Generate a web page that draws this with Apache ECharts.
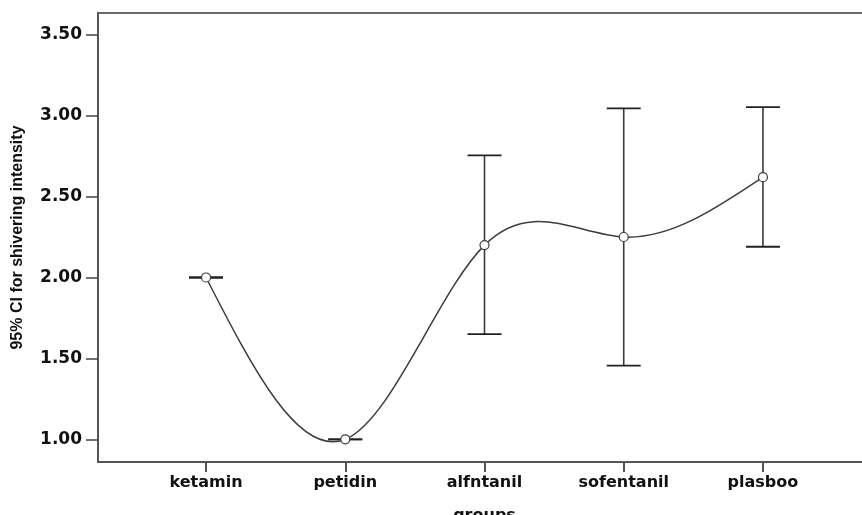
<!DOCTYPE html>
<html>
<head>
<meta charset="utf-8">
<script src="https://cdn.jsdelivr.net/npm/echarts@6/dist/echarts.min.js"></script>
<style>
  html, body { margin: 0; padding: 0; background: #fff; overflow: hidden; }
  #main { width: 871px; height: 515px; }
</style>
</head>
<body>
<div id="main"></div>
<script>
// groups on x axis
const groups = ['ketamin', 'petidin', 'alfntanil', 'sofentanil', 'plasboo'];
// mean shivering intensity per group
const means = [2.00, 1.00, 2.20, 2.25, 2.62];
// 95% CI bounds
const ciLow = [2.00, 1.00, 1.65, 1.455, 2.19];
const ciHigh = [2.00, 1.00, 2.755, 3.045, 3.052];
// tick positions
const yTicks = [1.0, 1.5, 2.0, 2.5, 3.0, 3.5];
const xTicks = [1, 2, 3, 4, 5];

// natural cubic spline (unit spacing) second derivatives, like the SPSS interpolation line
function splineM(y) {
  const n = y.length;
  const M = new Array(n).fill(0);
  if (n < 3) return M;
  const a = [], b = [], c = [], d = [];
  for (let i = 1; i < n - 1; i++) {
    a.push(1); b.push(4); c.push(1);
    d.push(6 * (y[i + 1] - 2 * y[i] + y[i - 1]));
  }
  // thomas algorithm
  const m = d.length;
  for (let i = 1; i < m; i++) {
    const w = a[i] / b[i - 1];
    b[i] -= w * c[i - 1];
    d[i] -= w * d[i - 1];
  }
  const sol = new Array(m);
  sol[m - 1] = d[m - 1] / b[m - 1];
  for (let i = m - 2; i >= 0; i--) sol[i] = (d[i] - c[i] * sol[i + 1]) / b[i];
  for (let i = 0; i < m; i++) M[i + 1] = sol[i];
  return M;
}
const M = splineM(means);

const chart = echarts.init(document.getElementById('main'), null, { renderer: 'canvas' });

const pointData = means.map((m, i) => [i + 1, m]);
const barData = means.map((m, i) => [i + 1, ciLow[i], ciHigh[i]]);

const option = {
  animation: false,
  backgroundColor: '#fff',
  grid: {
    left: 98, top: 13, right: 0, bottom: 53,
    outerBoundsMode: 'none',
    show: true, borderColor: '#6a6a6a', borderWidth: 2
  },
  xAxis: {
    type: 'value',
    min: 0.224, max: 5.776,
    name: 'groups',
    nameLocation: 'middle',
    nameGap: 46,
    nameTextStyle: { fontFamily: 'DejaVu Sans', fontWeight: 'bold', fontSize: 16, color: '#111' },
    axisLine: { show: true, lineStyle: { color: '#555', width: 2 } },
    axisTick: { show: true, customValues: xTicks, length: 10, lineStyle: { color: '#555', width: 2 } },
    axisLabel: {
      customValues: xTicks,
      margin: 13,
      fontFamily: 'DejaVu Sans', fontWeight: 'bold', fontSize: 16, color: '#111',
      formatter: v => groups[Math.round(v) - 1] || ''
    },
    splitLine: { show: false }
  },
  yAxis: {
    type: 'value',
    min: 0.86, max: 3.634,
    name: '95% CI for shivering intensity',
    nameLocation: 'middle',
    nameGap: 72,
    nameTextStyle: { fontFamily: 'Liberation Sans', fontWeight: 'bold', fontSize: 16, color: '#111' },
    axisLine: { show: true, lineStyle: { color: '#555', width: 2 } },
    axisTick: { show: true, customValues: yTicks, length: 12, lineStyle: { color: '#444', width: 1.5 } },
    axisLabel: {
      customValues: yTicks,
      margin: 16,
      fontFamily: 'DejaVu Sans', fontWeight: 'bold', fontSize: 17, color: '#111',
      formatter: v => v.toFixed(2)
    },
    splitLine: { show: false }
  },
  series: [
    {
      // error bars
      type: 'custom',
      z: 2,
      data: barData,
      renderItem: function (params, api) {
        const x = api.value(0);
        const lo = api.coord([x, api.value(1)]);
        const hi = api.coord([x, api.value(2)]);
        const half = 17;
        const children = [];
        if (Math.abs(hi[1] - lo[1]) > 0.5) {
          children.push({ type: 'line', shape: { x1: lo[0], y1: lo[1], x2: hi[0], y2: hi[1] }, style: { stroke: '#3a3a3a', lineWidth: 1.6 } });
        }
        children.push({ type: 'line', shape: { x1: hi[0] - half, y1: hi[1], x2: hi[0] + half, y2: hi[1] }, style: { stroke: '#222', lineWidth: 1.8 } });
        children.push({ type: 'line', shape: { x1: lo[0] - half, y1: lo[1], x2: lo[0] + half, y2: lo[1] }, style: { stroke: '#222', lineWidth: 1.8 } });
        return { type: 'group', children };
      }
    },
    {
      // interpolation line between the means
      type: 'custom',
      z: 3,
      data: pointData,
      renderItem: function (params, api) {
        const i = params.dataIndex;
        if (i >= means.length - 1) return null;
        const x0 = i + 1, x1 = i + 2;
        const y0 = means[i], y1 = means[i + 1];
        const d0 = (y1 - y0) - (2 * M[i] + M[i + 1]) / 6;
        const d1 = (y1 - y0) + (M[i] + 2 * M[i + 1]) / 6;
        const p0 = api.coord([x0, y0]);
        const c1 = api.coord([x0 + 1 / 3, y0 + d0 / 3]);
        const c2 = api.coord([x1 - 1 / 3, y1 - d1 / 3]);
        const p1 = api.coord([x1, y1]);
        return {
          type: 'bezierCurve',
          shape: { x1: p0[0], y1: p0[1], cpx1: c1[0], cpy1: c1[1], cpx2: c2[0], cpy2: c2[1], x2: p1[0], y2: p1[1] },
          style: { stroke: '#3c3c3c', lineWidth: 1.5, fill: null }
        };
      }
    },
    {
      type: 'scatter',
      z: 4,
      data: pointData,
      symbol: 'circle',
      symbolSize: 9,
      itemStyle: { color: '#fff', borderColor: '#3c3c3c', borderWidth: 1.2, opacity: 1 }
    }
  ]
};

chart.setOption(option);
</script>
</body>
</html>
